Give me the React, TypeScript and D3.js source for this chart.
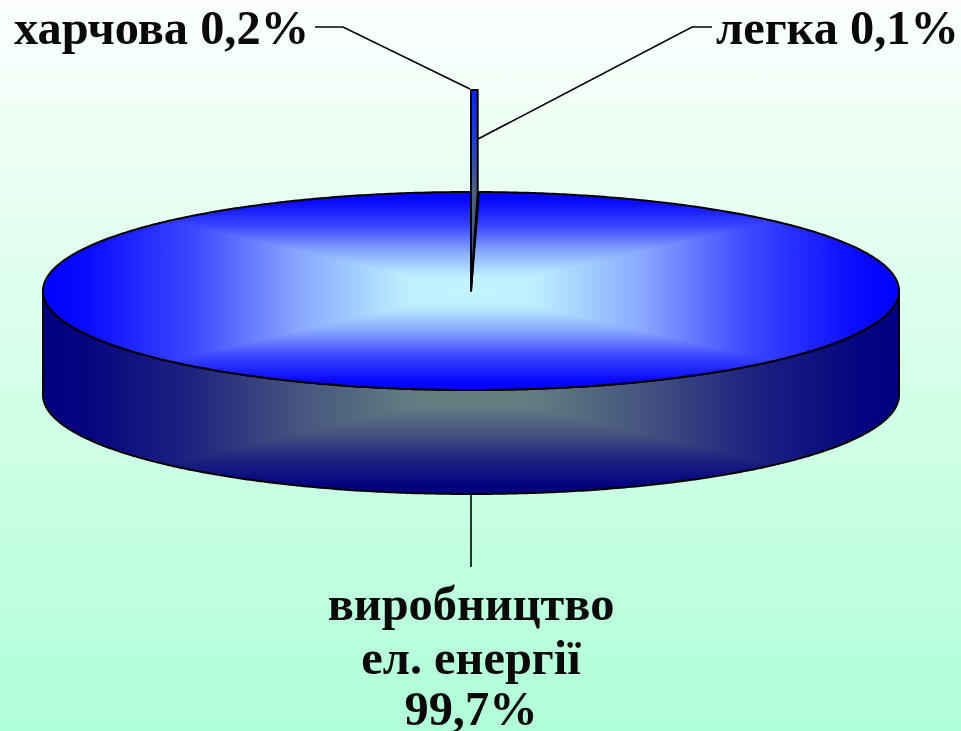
import React from "react";
import * as d3 from "d3";

const W = 961;
const H = 731;

const sliceNames = ["харчова", "легка", "виробництво ел. енергії"];
const sliceValues = [0.2, 0.1, 99.7];
const topLeftLabel = "харчова 0,2%";
const topRightLabel = "легка 0,1%";
const bottomLabelLines = ["виробництво", "ел. енергії", "99,7%"];

const gradientOffsets = [0, 0.15, 0.4, 0.65, 0.9, 1];
const topColors = ["#c4f6ff", "#bdefff", "#88a8ff", "#3a48ff", "#0a0aff", "#0000ff"];
const sideColors = ["#668080", "#627b80", "#45557f", "#1d2480", "#050580", "#000080"];

const cx = 471, cy = 291, rx = 428, ry = 99, depth = 104;
const spread = 0.83; // visual narrowing of the thin wedges

const pieAngles = d3.pie<number>().sort(null)(sliceValues);
const sx = d3.scaleLinear().domain([-1, 1]).range([cx - rx, cx + rx]);
const sy = d3.scaleLinear().domain([-1, 1]).range([cy + ry, cy - ry]);
const rim = (a: number, dy = 0): [number, number] => [sx(Math.sin(a)), sy(Math.cos(a)) + dy];
const line = d3.line();

const mainArc = pieAngles[2];
const topPts = d3.range(0, 721).map((i) => rim(mainArc.startAngle + ((mainArc.endAngle - mainArc.startAngle) * i) / 720));
const topPath = line([[cx, cy], ...topPts])! + "Z";

const frontAngles = d3.range(0, 361).map((i) => Math.PI / 2 + (Math.PI * i) / 360);
const wallPath =
  line([...frontAngles.map((a) => rim(a)), ...frontAngles.slice().reverse().map((a) => rim(a, depth))])! + "Z";

const a0 = pieAngles[0].startAngle;
const a2 = pieAngles[1].endAngle * spread;
const sliverHeight = 102;

function RectGrad({ id, colors, x0, x1, y0, y1, clip }: any) {
  const mx = (x0 + x1) / 2;
  const my = (y0 + y1) / 2;
  const defs = [
    { k: "l", g: [mx, my, x0, my], p: [[mx, my], [x0, y0], [x0, y1]] },
    { k: "r", g: [mx, my, x1, my], p: [[mx, my], [x1, y0], [x1, y1]] },
    { k: "t", g: [mx, my, mx, y0], p: [[mx, my], [x0, y0], [x1, y0]] },
    { k: "b", g: [mx, my, mx, y1], p: [[mx, my], [x0, y1], [x1, y1]] },
  ];
  return (
    <g>
      <defs>
        <clipPath id={id + "clip"}><path d={clip} /></clipPath>
        {defs.map((d) => (
          <linearGradient key={d.k} id={id + d.k} gradientUnits="userSpaceOnUse" x1={d.g[0]} y1={d.g[1]} x2={d.g[2]} y2={d.g[3]}>
            {gradientOffsets.map((o, i) => <stop key={i} offset={o} stopColor={colors[i]} />)}
          </linearGradient>
        ))}
      </defs>
      <g clipPath={`url(#${id}clip)`}>
        {defs.map((d) => (
          <path key={d.k} d={line(d.p as any)! + "Z"} fill={`url(#${id + d.k})`} shapeRendering="crispEdges" />
        ))}
      </g>
    </g>
  );
}

export default function App() {
  const font = { fontFamily: "'Liberation Serif', 'Times New Roman', serif", fontWeight: 700, fontSize: 48.4, fill: "#0a0a0a" };
  const wedge = line([
    [cx, cy],
    rim(a0),
    rim(a0, -sliverHeight),
    rim(a2, -sliverHeight),
    rim(a2),
  ])! + "Z";
  const lead = { fill: "none", stroke: "#000", strokeWidth: 1.6 };
  return (
    <svg width={W} height={H} viewBox={`0 0 ${W} ${H}`} style={{ position: "absolute", left: 0, top: 0, display: "block" }}>
      <title>{sliceNames.join(", ")}</title>
      <defs>
        <linearGradient id="bg" x1="0" y1="0" x2="0" y2="1">
          <stop offset="0" stopColor="#fcfffc" />
          <stop offset="1" stopColor="#b0ffd8" />
        </linearGradient>
        <linearGradient id="sliver" gradientUnits="userSpaceOnUse" x1="0" y1={cy - ry - sliverHeight} x2="0" y2={cy}>
          <stop offset="0" stopColor="#1020f0" />
          <stop offset="0.25" stopColor="#2040d0" />
          <stop offset="0.5" stopColor="#506080" />
          <stop offset="1" stopColor="#405070" />
        </linearGradient>
      </defs>
      <rect width={W} height={H} fill="url(#bg)" />

      <RectGrad id="side" colors={sideColors} x0={cx - rx} x1={cx + rx} y0={cy} y1={cy + ry + depth} clip={wallPath} />
      <path d={wallPath} fill="none" stroke="#000" strokeWidth={2} />
      <RectGrad id="top" colors={topColors} x0={cx - rx} x1={cx + rx} y0={cy - ry} y1={cy + ry} clip={topPath} />
      <path d={topPath} fill="none" stroke="#000" strokeWidth={2} />

      <path d={wedge} fill="url(#sliver)" stroke="#000" strokeWidth={2} strokeLinejoin="round" />

      <path d={line([[315, 27], [343, 27], [470, 89]])!} {...lead} />
      <path d={line([[478, 139], [692, 27], [712, 27]])!} {...lead} />
      <path d={line([[471, cy + ry + depth], [471, 567]])!} {...lead} />

      <text x={14} y={44} {...font}>{topLeftLabel}</text>
      <text x={716} y={44} {...font}>{topRightLabel}</text>
      {bottomLabelLines.map((t, i) => (
        <text key={t} x={471} y={[620, 674, 725][i]} textAnchor="middle" {...font}>{t}</text>
      ))}
    </svg>
  );
}
